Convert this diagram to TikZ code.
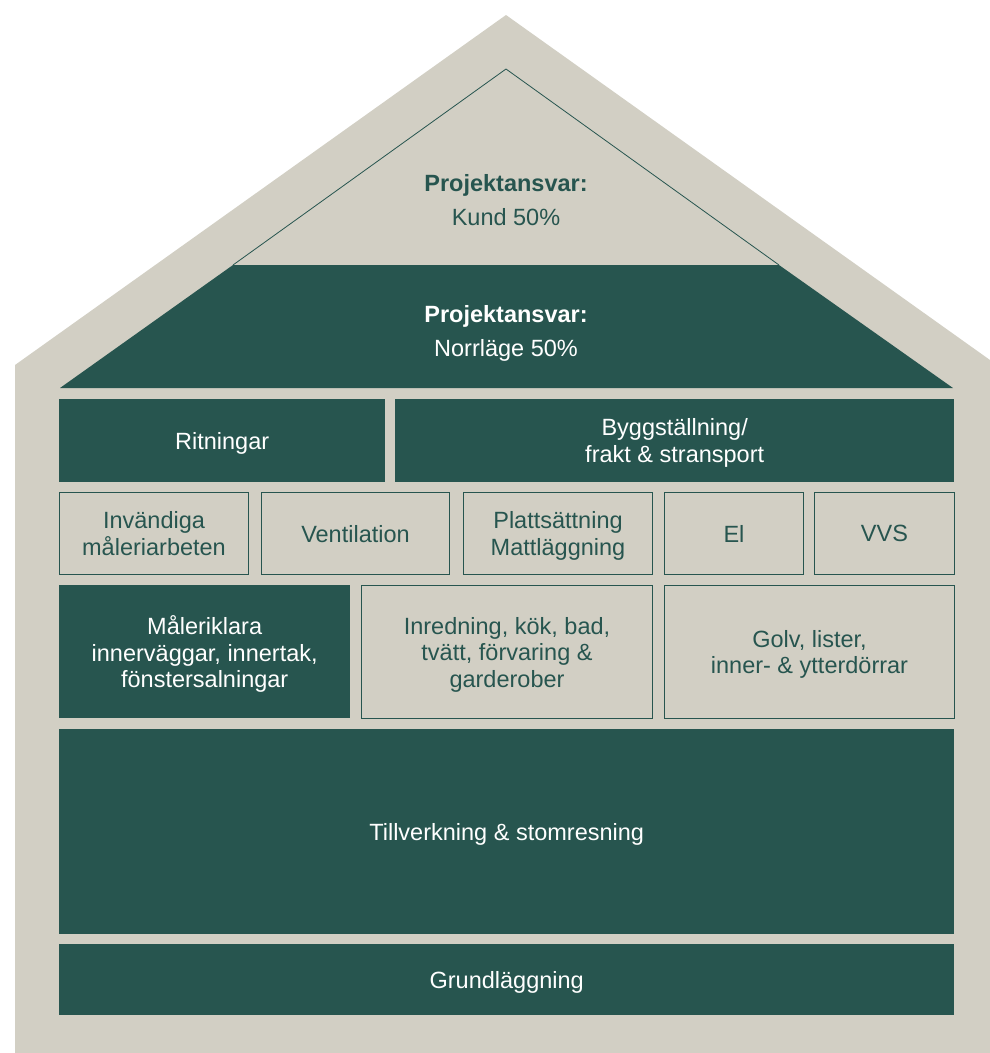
\documentclass[tikz,border=0pt]{standalone}
\usepackage{fontspec}
\setmainfont{Liberation Sans}
\usetikzlibrary{backgrounds}
\definecolor{husgron}{HTML}{27554F}
\definecolor{husbeige}{HTML}{D2CFC4}

\begin{document}
\begin{tikzpicture}[x=1pt,y=-1pt]
    % `mork' is used for the dark green blocks.
    % `ljus' is used for the framed beige blocks.
    % `tak' is used for the two texts in the roof.
    \tikzstyle{mork} = [fill=husgron,text=white,anchor=north west,inner sep=0pt,text depth=0pt,align=center,font=\fontsize{23.5}{26.5}\selectfont]
    \tikzstyle{ljus} = [mork,draw=husgron,line width=1pt,fill=husbeige,text=husgron]
    \tikzstyle{tak} = [align=center,inner sep=0pt,font=\fontsize{23.5}{34}\selectfont]
    \useasboundingbox (0,0) rectangle (989,1053);
    %
    % Roof texts.
    \node[tak,text=husgron] (kund) at (506,200) {\textbf{Projektansvar:}\\Kund 50\%};
    \node[tak,text=white] (norrlage) at (506,333) {\textbf{Projektansvar:}\\Norrläge 50\%};
    %
    \node[mork,minimum width=326pt,minimum height=83pt] (ritningar) at (59,399) {Ritningar};
    \node[mork,minimum width=559pt,minimum height=83pt] (bygg) at (395,399) {Byggställning/\\frakt \& stransport};
    %
    \node[ljus,minimum width=189pt,minimum height=82pt] (invandiga) at (59,492) {Invändiga\\måleriarbeten};
    \node[ljus,minimum width=188pt,minimum height=82pt] (ventilation) at (261,492) {Ventilation};
    \node[ljus,minimum width=189pt,minimum height=82pt] (platt) at (463,492) {Plattsättning\\Mattläggning};
    \node[ljus,minimum width=139pt,minimum height=82pt] (el) at (664,492) {El};
    \node[ljus,minimum width=140pt,minimum height=82pt] (vvs) at (814,492) {VVS};
    %
    \node[mork,minimum width=291pt,minimum height=133pt] (maleriklara) at (59,585) {Måleriklara\\innerväggar, innertak,\\fönstersalningar};
    \node[ljus,minimum width=291pt,minimum height=133pt] (inredning) at (361,585) {Inredning, kök, bad,\\tvätt, förvaring \&\\garderober};
    \node[ljus,minimum width=290pt,minimum height=133pt] (golv) at (664,585) {Golv, lister,\\inner- \& ytterdörrar};
    %
    \node[mork,minimum width=895pt,minimum height=205pt] (tillverkning) at (59,729) {Tillverkning \& stomresning};
    \node[mork,minimum width=895pt,minimum height=71pt] (grund) at (59,944) {Grundläggning};
    %
    \begin{pgfonlayer}{background}
        % Draw the house and the roof.
        \fill[husbeige] (15,1053) -- (15,365) -- (506,15) -- (997,365) -- (997,1053) -- cycle;
        \fill[husgron] (233,265) -- (779,265) -- (953,388) -- (60,388) -- cycle;
        \draw[husgron,line width=0.8pt] (233,265) -- (506,69) -- (779,265);
    \end{pgfonlayer}
\end{tikzpicture}
\end{document}
